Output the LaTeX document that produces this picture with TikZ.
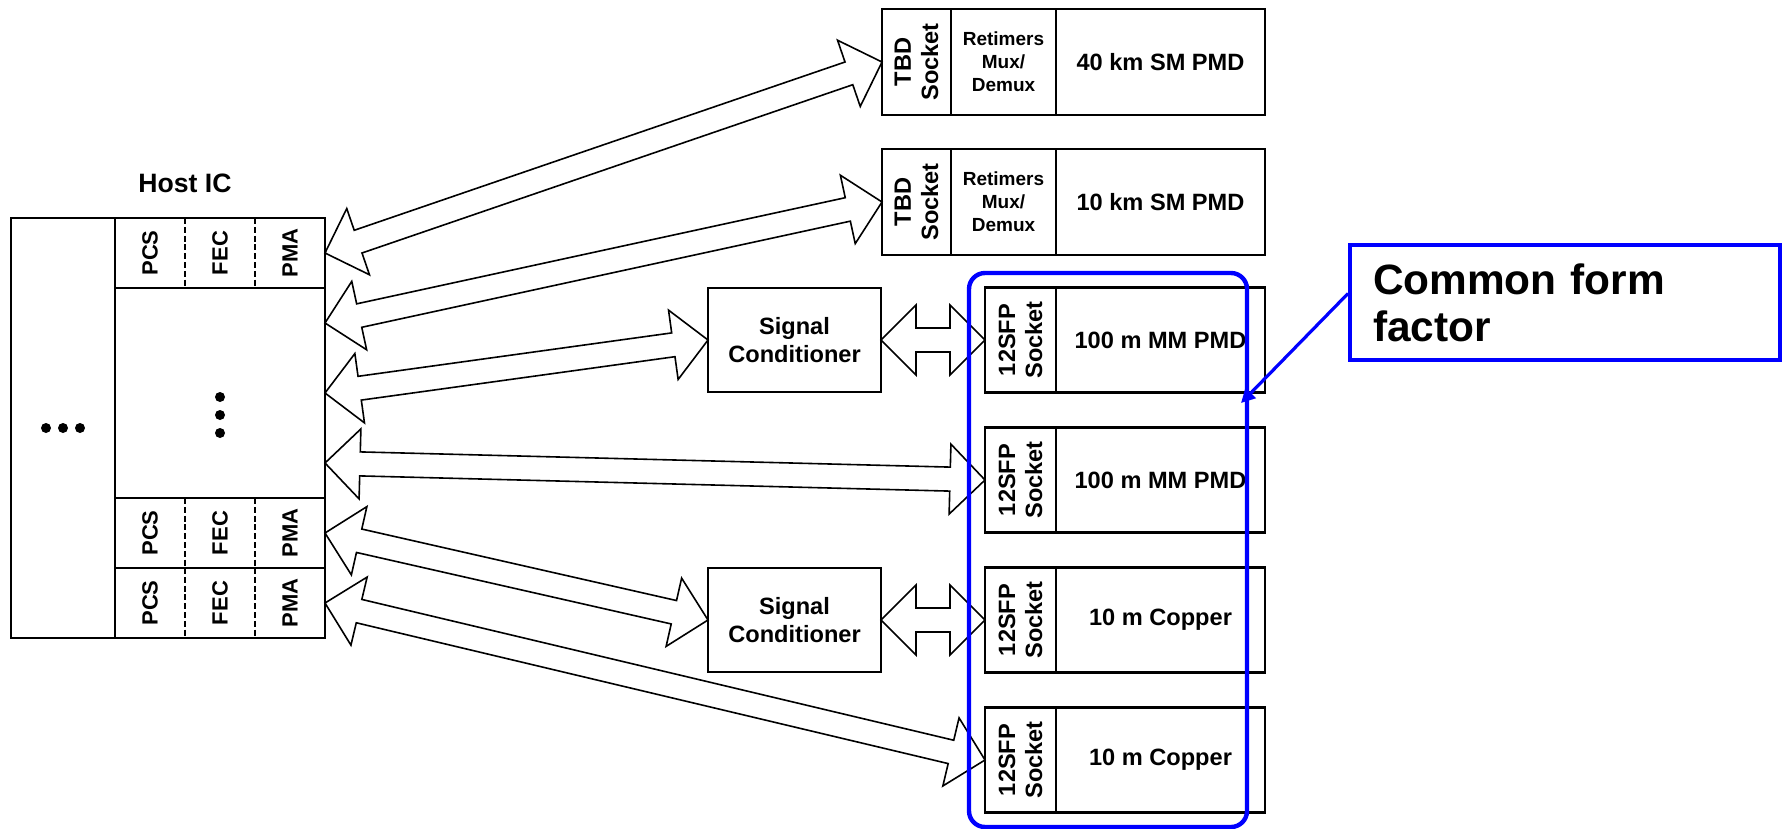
\documentclass[tikz,border=0pt]{standalone}
\usepackage{fontspec}
\setmainfont{Liberation Sans}
\usetikzlibrary{calc,arrows.meta}
\definecolor{ffblue}{RGB}{0,0,255}

% Fat double-headed outline arrow between two named points
\newcommand\blockarrow[2]{%
  \path (#1) coordinate (baA) (#2) coordinate (baB);
  \path ($(baA)!17.5pt!(baB)$) coordinate (baHA)
        ($(baB)!17.5pt!(baA)$) coordinate (baHB);
  \draw[bigarrow] (baA)
    -- ($(baHA)!17.5pt!90:(baB)$) -- ($(baHA)!6pt!90:(baB)$)
    -- ($(baHB)!6pt!-90:(baA)$) -- ($(baHB)!17.5pt!-90:(baA)$)
    -- (baB)
    -- ($(baHB)!17.5pt!90:(baA)$) -- ($(baHB)!6pt!90:(baA)$)
    -- ($(baHA)!6pt!-90:(baB)$) -- ($(baHA)!17.5pt!-90:(baB)$)
    -- cycle;
}

\tikzset{
  cell/.style={draw, line width=1.2pt, inner sep=0pt, outer sep=0pt, fill=white},
  txt/.style={font=\bfseries\fontsize{11.8}{13.6}\selectfont, align=center, inner sep=0pt},
  layertxt/.style={font=\bfseries\fontsize{11}{12}\selectfont, inner sep=0pt, rotate=90},
  smalltxt/.style={font=\bfseries\fontsize{9.5}{11.6}\selectfont, align=center, inner sep=0pt},
  bigarrow/.style={draw, fill=white, line width=0.8pt, line join=miter},
  layersep/.style={line width=0.6pt, dash pattern=on 3pt off 1.4pt},
  bigdot/.style={circle, fill=black, inner sep=0pt, minimum size=5pt},
  framebox/.style={draw=ffblue, line width=2.2pt, rounded corners=8pt, inner sep=0pt},
}

\begin{document}
\begin{tikzpicture}[x=0.5pt, y=-0.5pt]
\useasboundingbox (0,0) rectangle (1787,829);

% ---------- Host IC ----------
\node[font=\bfseries\fontsize{13.3}{15}\selectfont, inner sep=0pt] (hostic) at (185,183) {Host IC};
\node[cell, minimum width=52pt, minimum height=210pt] (hostleft) at (63,428) {};
\node[cell, minimum width=105pt, minimum height=35pt] (row1) at (220,253) {};
\node[cell, minimum width=105pt, minimum height=105pt] (mid) at (220,393) {};
\node[cell, minimum width=105pt, minimum height=35pt] (row2) at (220,533) {};
\node[cell, minimum width=105pt, minimum height=35pt] (row3) at (220,603) {};

\foreach \r in {row1,row2,row3}{
  \draw[layersep] ($(\r.north west)+(70,0)$) -- ($(\r.south west)+(70,0)$);
  \draw[layersep] ($(\r.north west)+(140,0)$) -- ($(\r.south west)+(140,0)$);
  \node[layertxt] (\r pcs) at ($(\r.west)+(35,0)$) {PCS};
  \node[layertxt] (\r fec) at ($(\r.west)+(105,0)$) {FEC};
  \node[layertxt] (\r pma) at ($(\r.west)+(175,0)$) {PMA};
}

% ellipsis dots
\foreach \k/\xx in {1/46,2/63,3/80}
  \node[bigdot] (hdot\k) at (\xx,428) {};
\foreach \k/\yy in {1/397,2/415,3/433}
  \node[bigdot] (vdot\k) at (220,\yy) {};

% ---------- TBD socket modules ----------
\foreach \i/\yy/\pmd in {1/62/40 km SM PMD, 2/202/10 km SM PMD}{
  \node[cell, minimum width=34.5pt, minimum height=53pt] (tbdsock\i) at (916.5,\yy) {};
  \node[txt, rotate=90] (tbdsocktxt\i) at (tbdsock\i) {TBD\\Socket};
  \node[cell, smalltxt, minimum width=52.5pt, minimum height=53pt] (retime\i) at (1003.5,\yy) {Retimers\\Mux/\\Demux};
  \node[cell, txt, minimum width=104.5pt, minimum height=53pt] (tbdpmd\i) at (1160.5,\yy) {\pmd};
}

% ---------- 12SFP socket modules ----------
\foreach \i/\yy/\pmd in {1/340/100 m MM PMD, 2/480/100 m MM PMD, 3/620/10 m Copper, 4/760/10 m Copper}{
  \node[cell, minimum width=35.5pt, minimum height=52.5pt] (sfpsock\i) at (1020.5,\yy) {};
  \node[txt, rotate=90] (sfpsocktxt\i) at (sfpsock\i) {12SFP\\Socket};
  \node[cell, txt, minimum width=104.5pt, minimum height=52.5pt] (sfppmd\i) at (1160.5,\yy) {\pmd};
}

% ---------- Signal conditioners ----------
\node[cell, txt, minimum width=86.5pt, minimum height=52pt] (sc1) at (794.5,340) {Signal\\Conditioner};
\node[cell, txt, minimum width=86.5pt, minimum height=52pt] (sc2) at (794.5,620) {Signal\\Conditioner};

% ---------- Lane connections ----------
\coordinate (hp1) at (row1.east);
\coordinate (hp2) at ($(mid.east)+(0,-70)$);
\coordinate (hp3) at (mid.east);
\coordinate (hp4) at ($(mid.east)+(0,70)$);
\coordinate (hp5) at (row2.east);
\coordinate (hp6) at (row3.east);

\blockarrow{hp1}{tbdsock1.west}
\blockarrow{hp2}{tbdsock2.west}
\blockarrow{hp3}{sc1.west}
\blockarrow{hp4}{sfpsock2.west}
\blockarrow{hp5}{sc2.west}
\blockarrow{hp6}{sfpsock4.west}
\blockarrow{sc1.east}{sfpsock1.west}
\blockarrow{sc2.east}{sfpsock3.west}

% ---------- Common form factor frame and callout ----------
\node[framebox, minimum width=139pt, minimum height=277pt] (cff) at (1108,550) {};
\coordinate (cfftip) at (1241,403);

\node[draw=ffblue, line width=2pt, fill=white, inner xsep=11.5pt, inner ysep=0pt,
      text width=192pt, align=left, minimum height=57.5pt,
      font=\bfseries\fontsize{21.2}{23.5}\selectfont] (callout) at (1565,302.5)
      {Common form\\factor};

\draw[ffblue, line width=1.6pt, -{Triangle[length=7pt,width=7pt]}]
  ([yshift=4.5pt]callout.west) -- (cfftip);
\end{tikzpicture}
\end{document}
